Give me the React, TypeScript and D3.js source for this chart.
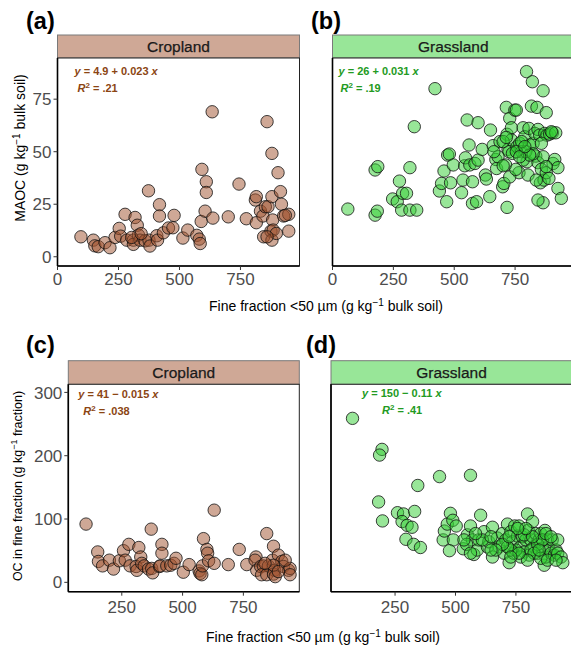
import * as d3 from "d3";
import React from "react";

// values: [fine fraction, y]
const cropMAOC: [number, number][] = [
  [96, 9.5], [147, 7.9], [153, 5.2], [167, 4.8], [195, 6.7], [215, 4.3], [236, 9.2], [253, 13.5],
  [259, 9.8], [277, 20.2], [284, 7.9], [318, 18.7], [327, 15], [311, 7.9], [311, 5.9], [332, 10.3],
  [338, 7.9], [359, 7.6], [373, 31.4], [375, 7.9], [379, 5.1], [407, 10], [410, 7.9], [418, 24.8],
  [418, 19.4], [434, 11.4], [455, 13.7], [473, 13.8], [478, 19.7], [514, 8.9], [534, 12.7], [571, 10.2],
  [581, 8.4], [585, 6.3], [589, 16.8], [592, 41.6], [610, 35.7], [610, 30.6], [605, 21.7], [634, 69],
  [637, 18.4], [700, 19], [744, 34.6], [774, 18.1], [811, 27], [815, 28.6], [815, 16.2], [832, 21.7],
  [842, 19.4], [845, 9.5], [852, 23.8], [863, 23.8], [859, 64.3], [879, 49.2], [879, 28.6], [882, 17.5],
  [875, 12.2], [884, 12.7], [879, 7.9], [897, 11.1], [904, 40], [914, 31], [918, 25], [927, 19.4],
  [948, 20.2], [948, 12.2], [859, 9.5], [934, 19.7], [304, 9.2], [343, 11],
];

const grassMAOC: [number, number][] = [
  [63, 22.7], [175, 19.8], [184, 21.7], [175, 41.3], [186, 42.9], [247, 27.5], [266, 26.2], [275, 36],
  [288, 30.2], [304, 30.2], [284, 22.2], [318, 22.2], [346, 22.2], [318, 42.4], [336, 61.9], [421, 80],
  [439, 31.3], [448, 34.9], [458, 40.8], [469, 26.2], [473, 48.4], [480, 48.9], [485, 35.2], [496, 43.7],
  [530, 30.5], [536, 36.5], [543, 43.3], [546, 47.1], [553, 65.1], [561, 53.2], [564, 43.7], [575, 35.7],
  [575, 25.4], [585, 44.4], [592, 26.2], [598, 63.8], [598, 46], [615, 51.1], [628, 38.9], [632, 37],
  [646, 28.6], [649, 60.3], [660, 52.9], [671, 46.3], [674, 42], [688, 54.8], [699, 33.3], [704, 34.9],
  [711, 43.7], [714, 71.1], [717, 23.5], [717, 58.3], [721, 51.1], [725, 50], [728, 65.9], [735, 61.4],
  [735, 55.6], [739, 49.2], [749, 69.8], [755, 69.8], [758, 52.4], [766, 40], [769, 54], [777, 50],
  [783, 61.4], [790, 57.1], [797, 88.1], [799, 45.2], [803, 38.9], [807, 61.1], [810, 53.2], [817, 71.7],
  [821, 83.3], [824, 54], [831, 58.7], [835, 47.9], [840, 71.1], [844, 60.6], [844, 44.8], [851, 57.9],
  [854, 35.2], [858, 41.6], [865, 47.6], [865, 25.7], [865, 79], [869, 36.5], [872, 58.7], [878, 68.6],
  [878, 40], [881, 57.9], [889, 37.3], [892, 58.4], [903, 59], [906, 44.4], [913, 46.3], [917, 59],
  [926, 42.4], [926, 32.5], [940, 27.8], [783, 46], [794, 50], [701, 54.8], [728, 38], [777, 54.8],
  [858, 54], [837, 36.5], [824, 49], [753, 41.6], [680, 47.6], [663, 50], [755, 50], [810, 48.4],
  [701, 43.3], [899, 59.5], [878, 42.9], [844, 27], [769, 47.6], [790, 52.4], [714, 56.8],
];

const cropOC: [number, number][] = [
  [103, 92], [151, 48], [154, 33], [171, 26], [199, 35], [216, 21], [240, 34], [257, 50], [264, 35],
  [279, 60], [284, 26], [320, 55], [328, 40], [309, 25], [312, 19], [332, 30], [342, 26], [360, 21],
  [371, 84], [373, 22], [377, 15], [405, 25], [408, 26], [415, 60], [415, 46], [435, 26], [451, 27],
  [465, 30], [473, 38], [503, 16], [527, 28], [568, 18], [572, 14], [579, 12], [582, 26], [586, 69],
  [600, 52], [603, 46], [607, 34], [630, 114], [630, 30], [688, 28], [733, 52], [764, 28], [802, 40],
  [798, 35], [805, 19], [821, 25], [832, 26], [825, 12], [846, 77], [853, 26], [846, 12], [874, 57],
  [870, 35], [878, 19], [874, 13], [881, 9], [894, 43], [908, 33], [915, 25], [936, 19], [942, 22],
  [942, 12], [874, 27], [894, 17], [839, 30], [922, 35],
];

const grassOC: [number, number][] = [
  [74, 259], [196, 210], [186, 201], [182, 127], [198, 97], [260, 110], [285, 108], [279, 96],
  [300, 90], [320, 87], [331, 112], [295, 68], [327, 60], [355, 55], [344, 153], [434, 167],
  [562, 169], [449, 67], [454, 81], [466, 92], [479, 109], [489, 98], [503, 89], [491, 67],
  [475, 50], [532, 53], [549, 75], [562, 89], [570, 67], [576, 44], [590, 51], [604, 106],
  [597, 67], [618, 80], [632, 56], [638, 64], [653, 87], [653, 40], [673, 70], [680, 56],
  [694, 77], [701, 46], [708, 67], [715, 92], [722, 31], [729, 80], [736, 64], [740, 46],
  [745, 89], [757, 73], [763, 89], [770, 56], [777, 72], [784, 48], [791, 67], [798, 108],
  [801, 82], [805, 43], [812, 67], [819, 96], [825, 56], [832, 77], [840, 46], [846, 67],
  [853, 77], [860, 54], [867, 27], [870, 82], [874, 40], [881, 67], [888, 51], [895, 46],
  [900, 67], [909, 43], [916, 51], [923, 67], [923, 46], [937, 40], [944, 31], [784, 75],
  [812, 51], [840, 60], [770, 40], [750, 51], [729, 51], [715, 56], [694, 60], [667, 51],
  [647, 51], [611, 67], [583, 77], [546, 60], [535, 67], [860, 67], [874, 77], [895, 72],
  [825, 46], [853, 38], [881, 35], [798, 35], [763, 46], [729, 40], [916, 35], [846, 51],
  [819, 72], [791, 85], [757, 85], [722, 72], [562, 46], [647, 72],
];

const topTicks = [0, 250, 500, 750];
const bottomTicks = [250, 500, 750];
const maocTicks = [0, 25, 50, 75];
const ocTicks = [0, 100, 200, 300];

const font = "'Liberation Sans', Arial, Helvetica, sans-serif";
const cropCol = "#A0522D";
const grassCol = "#32CD32";
const cropText = "#8B4513";
const grassText = "#229A22";

type PanelDef = {
  tag: string;
  title: string;
  left: number;
  right: number;
  stripTop: number;
  top: number;
  bottom: number;
  xDomain: [number, number];
  yDomain: [number, number];
  xTicks: number[];
  yTicks: number[] | null;
  data: [number, number][];
  col: string;
  textCol: string;
  eq: [string, string, string];
  r2: string;
  eqPos: [number, number, number, number];
  tagPos: [number, number];
  xLabelY: number;
};

const panels: PanelDef[] = [
  {
    tag: "(a)", title: "Cropland", left: 57.5, right: 299.5, stripTop: 35, top: 58, bottom: 266,
    xDomain: [0, 992], yDomain: [-4.4, 94.6], xTicks: topTicks, yTicks: maocTicks,
    data: cropMAOC, col: cropCol, textCol: cropText,
    eq: ["4.9", "+", "0.023"], r2: ".21", eqPos: [17, 17, 20, 34], tagPos: [26, 29], xLabelY: 285,
  },
  {
    tag: "(b)", title: "Grassland", left: 332.5, right: 574, stripTop: 35, top: 58, bottom: 266,
    xDomain: [0, 992], yDomain: [-4.4, 94.6], xTicks: topTicks, yTicks: null,
    data: grassMAOC, col: grassCol, textCol: grassText,
    eq: ["26", "+", "0.031"], r2: ".19", eqPos: [6, 17, 8, 34], tagPos: [311, 29], xLabelY: 285,
  },
  {
    tag: "(c)", title: "Cropland", left: 68.3, right: 299.3, stripTop: 360.7, top: 384.3, bottom: 591.7,
    xDomain: [30, 980], yDomain: [-14.8, 312.8], xTicks: bottomTicks, yTicks: ocTicks,
    data: cropOC, col: cropCol, textCol: cropText,
    eq: ["41", "\u2212", "0.015"], r2: ".038", eqPos: [10, 14, 15, 31], tagPos: [26, 353], xLabelY: 613,
  },
  {
    tag: "(d)", title: "Grassland", left: 331, right: 572, stripTop: 360.7, top: 384.3, bottom: 591.7,
    xDomain: [-15, 982], yDomain: [-14.8, 312.8], xTicks: bottomTicks, yTicks: null,
    data: grassOC, col: grassCol, textCol: grassText,
    eq: ["150", "\u2212", "0.11"], r2: ".41", eqPos: [31, 13, 51, 30], tagPos: [306, 353], xLabelY: 613,
  },
];

function Panel({ p }: { p: PanelDef }) {
  const x = d3.scaleLinear().domain(p.xDomain).range([p.left, p.right]);
  const y = d3.scaleLinear().domain(p.yDomain).range([p.bottom, p.top]);
  const [ex, ey, rx, ry] = p.eqPos;
  return (
    <g>
      <text x={p.tagPos[0]} y={p.tagPos[1]} fontSize={23.5} fontWeight="bold" fill="#000">{p.tag}</text>
      {/* strip */}
      <rect x={p.left} y={p.stripTop} width={p.right - p.left} height={p.top - p.stripTop}
        fill={p.col} fillOpacity={0.5} stroke="#7a7a7a" strokeWidth={1} />
      <text x={(p.left + p.right) / 2} y={(p.stripTop + p.top) / 2} dy="0.36em" textAnchor="middle"
        fontSize={15.5} fill="#1a1a1a" stroke="#1a1a1a" strokeWidth={0.25}>{p.title}</text>
      {/* panel */}
      <rect x={p.left} y={p.top} width={p.right - p.left} height={p.bottom - p.top}
        fill="#fff" stroke="#222" strokeWidth={1} />
      {p.data.map((d, i) => (
        <circle key={i} cx={x(d[0])} cy={y(d[1])} r={6.2} fill={p.col} fillOpacity={0.5}
          stroke="#111" strokeWidth={0.8} />
      ))}
      {/* axis lines */}
      <line x1={p.left} x2={p.right} y1={p.bottom} y2={p.bottom} stroke="#000" strokeWidth={1.6} />
      <line x1={p.left} x2={p.left} y1={p.top} y2={p.bottom} stroke="#000" strokeWidth={1.6} />
      {p.xTicks.map((t) => (
        <g key={"x" + t}>
          <line x1={x(t)} x2={x(t)} y1={p.bottom} y2={p.bottom + 4} stroke="#333" />
          <text x={x(t)} y={p.xLabelY} textAnchor="middle" fontSize={17} fill="#4d4d4d">{t}</text>
        </g>
      ))}
      {p.yTicks && p.yTicks.map((t) => (
        <g key={"y" + t}>
          <line x1={p.left - 4} x2={p.left} y1={y(t)} y2={y(t)} stroke="#333" />
          <text x={p.left - 6} y={y(t)} dy="0.36em" textAnchor="end" fontSize={17} fill="#4d4d4d">{t}</text>
        </g>
      ))}
      {/* regression annotation */}
      <text x={p.left + ex} y={p.top + ey} fontSize={11} fontWeight="bold" fill={p.textCol}>
        <tspan fontStyle="italic">y</tspan>
        {` = ${p.eq[0]} ${p.eq[1]} ${p.eq[2]} `}
        <tspan fontStyle="italic">x</tspan>
      </text>
      <text x={p.left + rx} y={p.top + ry} fontSize={11} fontWeight="bold" fill={p.textCol}>
        <tspan fontStyle="italic">R</tspan>
        <tspan dy={-4} fontSize={8}>2</tspan>
        <tspan dy={4}>{` =  ${p.r2}`}</tspan>
      </text>
    </g>
  );
}

export default function App() {
  return (
    <svg width={571} height={652} style={{ position: "absolute", left: 0, top: 0, background: "#fff" }}
      fontFamily={font}>
      {panels.map((p) => <Panel key={p.tag} p={p} />)}
      <text transform="translate(25,148) rotate(-90)" textAnchor="middle" fontSize={14} fill="#000">
        MAOC (g kg<tspan dy={-5} fontSize={10}>{"\u22121"}</tspan><tspan dy={5}> bulk soil)</tspan>
      </text>
      <text transform="translate(22,486) rotate(-90)" textAnchor="middle" fontSize={12.5} fill="#000">
        OC in fine fraction (g kg<tspan dy={-5} fontSize={9}>{"\u22121"}</tspan><tspan dy={5}> fraction)</tspan>
      </text>
      <text x={326} y={311} textAnchor="middle" fontSize={14} fill="#000">
        Fine fraction &lt;50 µm (g kg<tspan dy={-5} fontSize={10}>{"\u22121"}</tspan><tspan dy={5}> bulk soil)</tspan>
      </text>
      <text x={323} y={642} textAnchor="middle" fontSize={14} fill="#000">
        Fine fraction &lt;50 µm (g kg<tspan dy={-5} fontSize={10}>{"\u22121"}</tspan><tspan dy={5}> bulk soil)</tspan>
      </text>
    </svg>
  );
}
